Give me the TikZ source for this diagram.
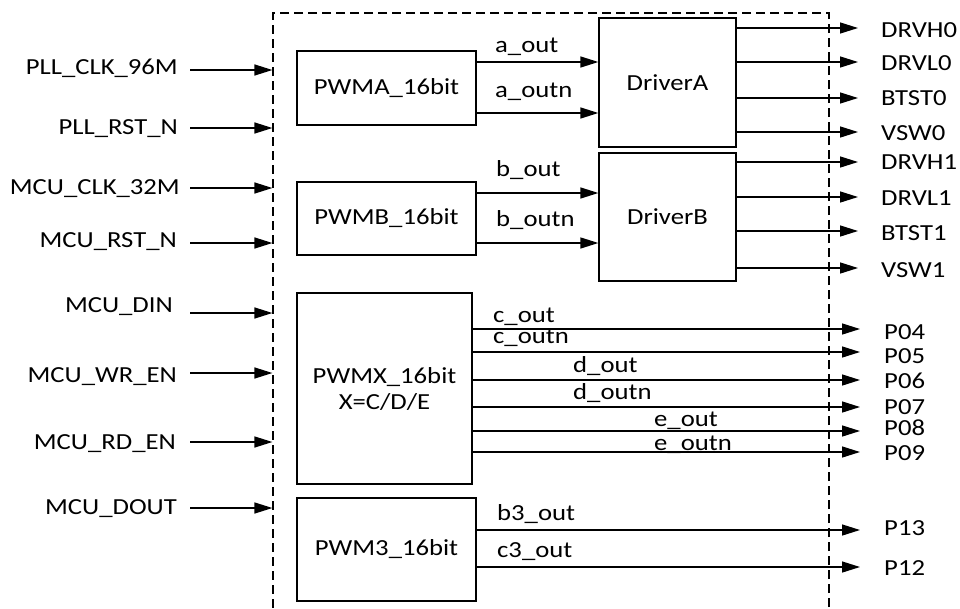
\documentclass[tikz,border=0pt]{standalone}
\usepackage{fontspec}
\setmainfont{Carlito}[FakeStretch=1.16]
\usetikzlibrary{arrows.meta}
\begin{document}
\begin{tikzpicture}[x=1pt,y=-1pt,
  font=\fontsize{23}{26}\selectfont,
  blk/.style={draw, line width=1.3pt, inner sep=0pt, align=center},
  sig/.style={line width=1.4pt, -{Triangle[length=18pt,width=11pt]}},
  llbl/.style={anchor=east, inner sep=0pt, text height=15pt, text depth=0pt},
  rlbl/.style={anchor=west, inner sep=0pt, text height=15pt, text depth=0pt},
  slbl/.style={anchor=base west, inner sep=0pt},
]
\useasboundingbox (0,0) rectangle (960,608);
\clip (0,0) rectangle (960,608);
\fill[white] (0,0) rectangle (960,608);

% chip boundary
\node[draw, dash pattern=on 9pt off 5pt, line width=1.2pt, minimum width=556pt, minimum height=640pt, inner sep=0pt] (chip) at (551,333) {};

% blocks
\node[blk, minimum width=179pt, minimum height=74pt] (pwma) at (386.5,88) {PWMA\_16bit};
\node[blk, minimum width=179pt, minimum height=73pt] (pwmb) at (386.5,218.5) {PWMB\_16bit};
\node[blk, minimum width=175pt, minimum height=191pt] (pwmx) at (384.5,388.5) {PWMX\_16bit\\X=C/D/E};
\node[blk, minimum width=179pt, minimum height=103pt] (pwm3) at (386.5,549.5) {PWM3\_16bit};
\node[blk, minimum width=137pt, minimum height=129pt] (drva) at (667.5,82.5) {DriverA};
\node[blk, minimum width=137pt, minimum height=128pt] (drvb) at (667.5,217) {DriverB};

% inputs
\node[llbl] (l1) at (178,67) {PLL\_CLK\_96M};
\node[llbl] (l2) at (178,127) {PLL\_RST\_N};
\node[llbl] (l3) at (180,187) {MCU\_CLK\_32M};
\node[llbl] (l4) at (177,240) {MCU\_RST\_N};
\node[llbl] (l5) at (173,305) {MCU\_DIN};
\node[llbl] (l6) at (177,375) {MCU\_WR\_EN};
\node[llbl] (l7) at (176,442) {MCU\_RD\_EN};
\node[llbl] (l8) at (177,507) {MCU\_DOUT};
\foreach \n/\y in {1/70,2/128,3/188,4/243,5/313,6/373,7/442,8/508}{
  \coordinate (i\n) at (190,\y);
  \draw[sig] (i\n) -- (i\n -| chip.west);
}

% PWMA/B -> drivers
\foreach \y/\s/\d in {62/pwma/drva,113/pwma/drva,193/pwmb/drvb,243/pwmb/drvb}{
  \coordinate (t) at (0,\y);
  \draw[sig] (t -| \s.east) -- (t -| \d.west);
}
\node[slbl] (sa1) at (495,52) {a\_out};
\node[slbl] (sa2) at (495,97) {a\_outn};
\node[slbl] (sb1) at (496,176) {b\_out};
\node[slbl] (sb2) at (496,226) {b\_outn};

% driver outputs
\foreach \y/\ly/\src/\txt in {28/30/drva/DRVH0,62/63/drva/DRVL0,98/98/drva/BTST0,132/133/drva/VSW0,162/162/drvb/DRVH1,197/198/drvb/DRVL1,231/233/drvb/BTST1,268/270/drvb/VSW1}{
  \coordinate (o\txt) at (858,\y);
  \draw[sig] (o\txt -| \src.east) -- (o\txt);
  \node[rlbl] (n\txt) at (881,\ly) {\txt};
}

% PWMX outputs
\foreach \y/\ly/\txt in {329/332/P04,352/356/P05,380/381/P06,407/407/P07,431/428/P08,452/453/P09}{
  \coordinate (o\txt) at (860,\y);
  \draw[sig] (o\txt -| pwmx.east) -- (o\txt);
  \node[rlbl] (n\txt) at (884,\ly) {\txt};
}
\node[slbl] (sc1) at (493,322) {c\_out};
\node[slbl] (sc2) at (493,343) {c\_outn};
\node[slbl] (sd1) at (573,372) {d\_out};
\node[slbl] (sd2) at (573,399) {d\_outn};
\node[slbl] (se1) at (654,426) {e\_out};
\node[slbl] (se2) at (654,450) {e\_outn};

% PWM3 outputs
\foreach \y/\ly/\txt in {530/528/P13,567/568/P12}{
  \coordinate (o\txt) at (860,\y);
  \draw[sig] (o\txt -| pwm3.east) -- (o\txt);
  \node[rlbl] (n\txt) at (884,\ly) {\txt};
}
\node[slbl] (sb3) at (497,520) {b3\_out};
\node[slbl] (sc3) at (497,557) {c3\_out};
\end{tikzpicture}
\end{document}
